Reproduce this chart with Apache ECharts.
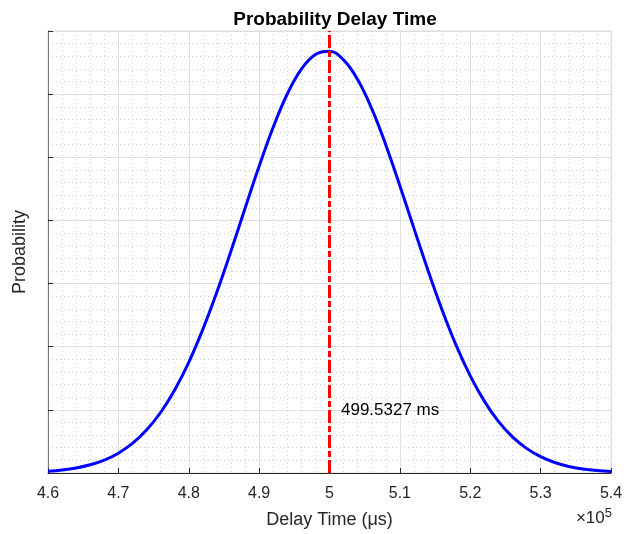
<!DOCTYPE html>
<html>
<head>
<meta charset="utf-8">
<script src="https://cdn.jsdelivr.net/npm/echarts@6/dist/echarts.min.js"></script>
<style>
  html, body { margin: 0; padding: 0; background: #fff; }
  #chart { width: 624px; height: 534px; }
</style>
</head>
<body>
<div id="chart"></div>
<script>
// delay time in units of 1e5 us, probability in units of 1e-5
const delayTime = [
  4.60, 4.62, 4.64, 4.66, 4.68, 4.70, 4.72, 4.74, 4.76, 4.78,
  4.80, 4.82, 4.84, 4.86, 4.88, 4.90, 4.92, 4.94, 4.96, 4.98,
  5.00, 5.02, 5.04, 5.06, 5.08, 5.10, 5.12, 5.14, 5.16, 5.18,
  5.20, 5.22, 5.24, 5.26, 5.28, 5.30, 5.32, 5.34, 5.36, 5.38, 5.40,
];
const probability = [
  0.014, 0.024, 0.040, 0.065, 0.102, 0.157, 0.234, 0.340, 0.479, 0.657,
  0.876, 1.137, 1.433, 1.758, 2.096, 2.429, 2.738, 3.001, 3.198, 3.314,
  3.339, 3.271, 3.115, 2.885, 2.598, 2.275, 1.937, 1.604, 1.291, 1.010,
  0.769, 0.569, 0.409, 0.286, 0.195, 0.129, 0.083, 0.052, 0.032, 0.019, 0.011,
];
const meanDelay = 4.995327;          // 499.5327 ms
const labelPos = [5.0163, 0.5];
const labelText = '499.5327 ms';

const chart = echarts.init(document.getElementById('chart'));
const font = '"Liberation Sans", Arial, Helvetica, sans-serif';
const ink = '#262626';

chart.setOption({
  animation: false,
  title: {
    text: 'Probability Delay Time',
    left: 330,
    textAlign: 'center',
    top: 5,
    textStyle: { fontFamily: font, fontSize: 19, fontWeight: 'bold', color: '#000' },
  },
  grid: {
    left: 48, right: 13, top: 31, bottom: 61,
    outerBoundsMode: 'none',
    show: true, borderColor: '#dcdcdc', borderWidth: 1,
  },
  xAxis: {
    type: 'value',
    min: 4.6,
    max: 5.4,
    interval: 0.1,
    name: 'Delay Time (μs)',
    nameLocation: 'middle',
    nameGap: 38,
    nameTextStyle: { fontFamily: font, fontSize: 18, color: ink },
    axisLine: { lineStyle: { color: ink, width: 1 } },
    axisTick: { inside: true, length: 5, lineStyle: { color: ink } },
    axisLabel: {
      fontFamily: font, fontSize: 16, color: ink, margin: 13,
      formatter: (v) => String(Math.round(v * 10) / 10),
    },
    splitLine: { show: true, lineStyle: { color: '#dedede', width: 1 } },
    minorTick: { show: false, splitNumber: 5 },
    minorSplitLine: { show: true, lineStyle: { color: '#d0d0d0', width: 1, type: [1, 3] } },
  },
  yAxis: {
    type: 'value',
    min: 0,
    max: 3.5,
    interval: 0.5,
    name: 'Probability',
    nameLocation: 'middle',
    nameGap: 19,
    nameTextStyle: { fontFamily: font, fontSize: 18, color: ink },
    axisLine: { show: true, lineStyle: { color: '#777', width: 1 } },
    axisTick: { show: true, inside: true, length: 5, lineStyle: { color: ink } },
    axisLabel: { show: false },
    splitLine: { show: true, lineStyle: { color: '#dedede', width: 1 } },
    minorTick: { show: false, splitNumber: 5 },
    minorSplitLine: { show: true, lineStyle: { color: '#d0d0d0', width: 1, type: [1, 3] } },
  },
  series: [
    {
      type: 'line',
      data: delayTime.map((x, i) => [x, probability[i]]),
      smooth: 0.4,
      showSymbol: false,
      lineStyle: { color: '#0000ff', width: 3 },
      markLine: {
        silent: true,
        symbol: 'none',
        label: { show: false },
        lineStyle: { color: '#ff0000', width: 3, type: [13, 3, 6, 3] },
        data: [{ xAxis: meanDelay }],
      },
      markPoint: {
        silent: true,
        symbol: 'circle',
        symbolSize: 0,
        label: {
          show: true,
          position: 'right',
          distance: 0,
          formatter: labelText,
          fontFamily: font,
          fontSize: 17,
          color: '#000',
        },
        data: [{ coord: labelPos }],
      },
    },
  ],
  graphic: [
    {
      type: 'text',
      right: 12,
      top: 507,
      style: {
        text: '×10{s|5}',
        fontFamily: font,
        fontSize: 17,
        fill: ink,
        rich: { s: { fontFamily: font, fontSize: 13, fill: ink, verticalAlign: 'top', padding: [0, 0, 10, 0] } },
      },
    },
  ],
});
</script>
</body>
</html>
